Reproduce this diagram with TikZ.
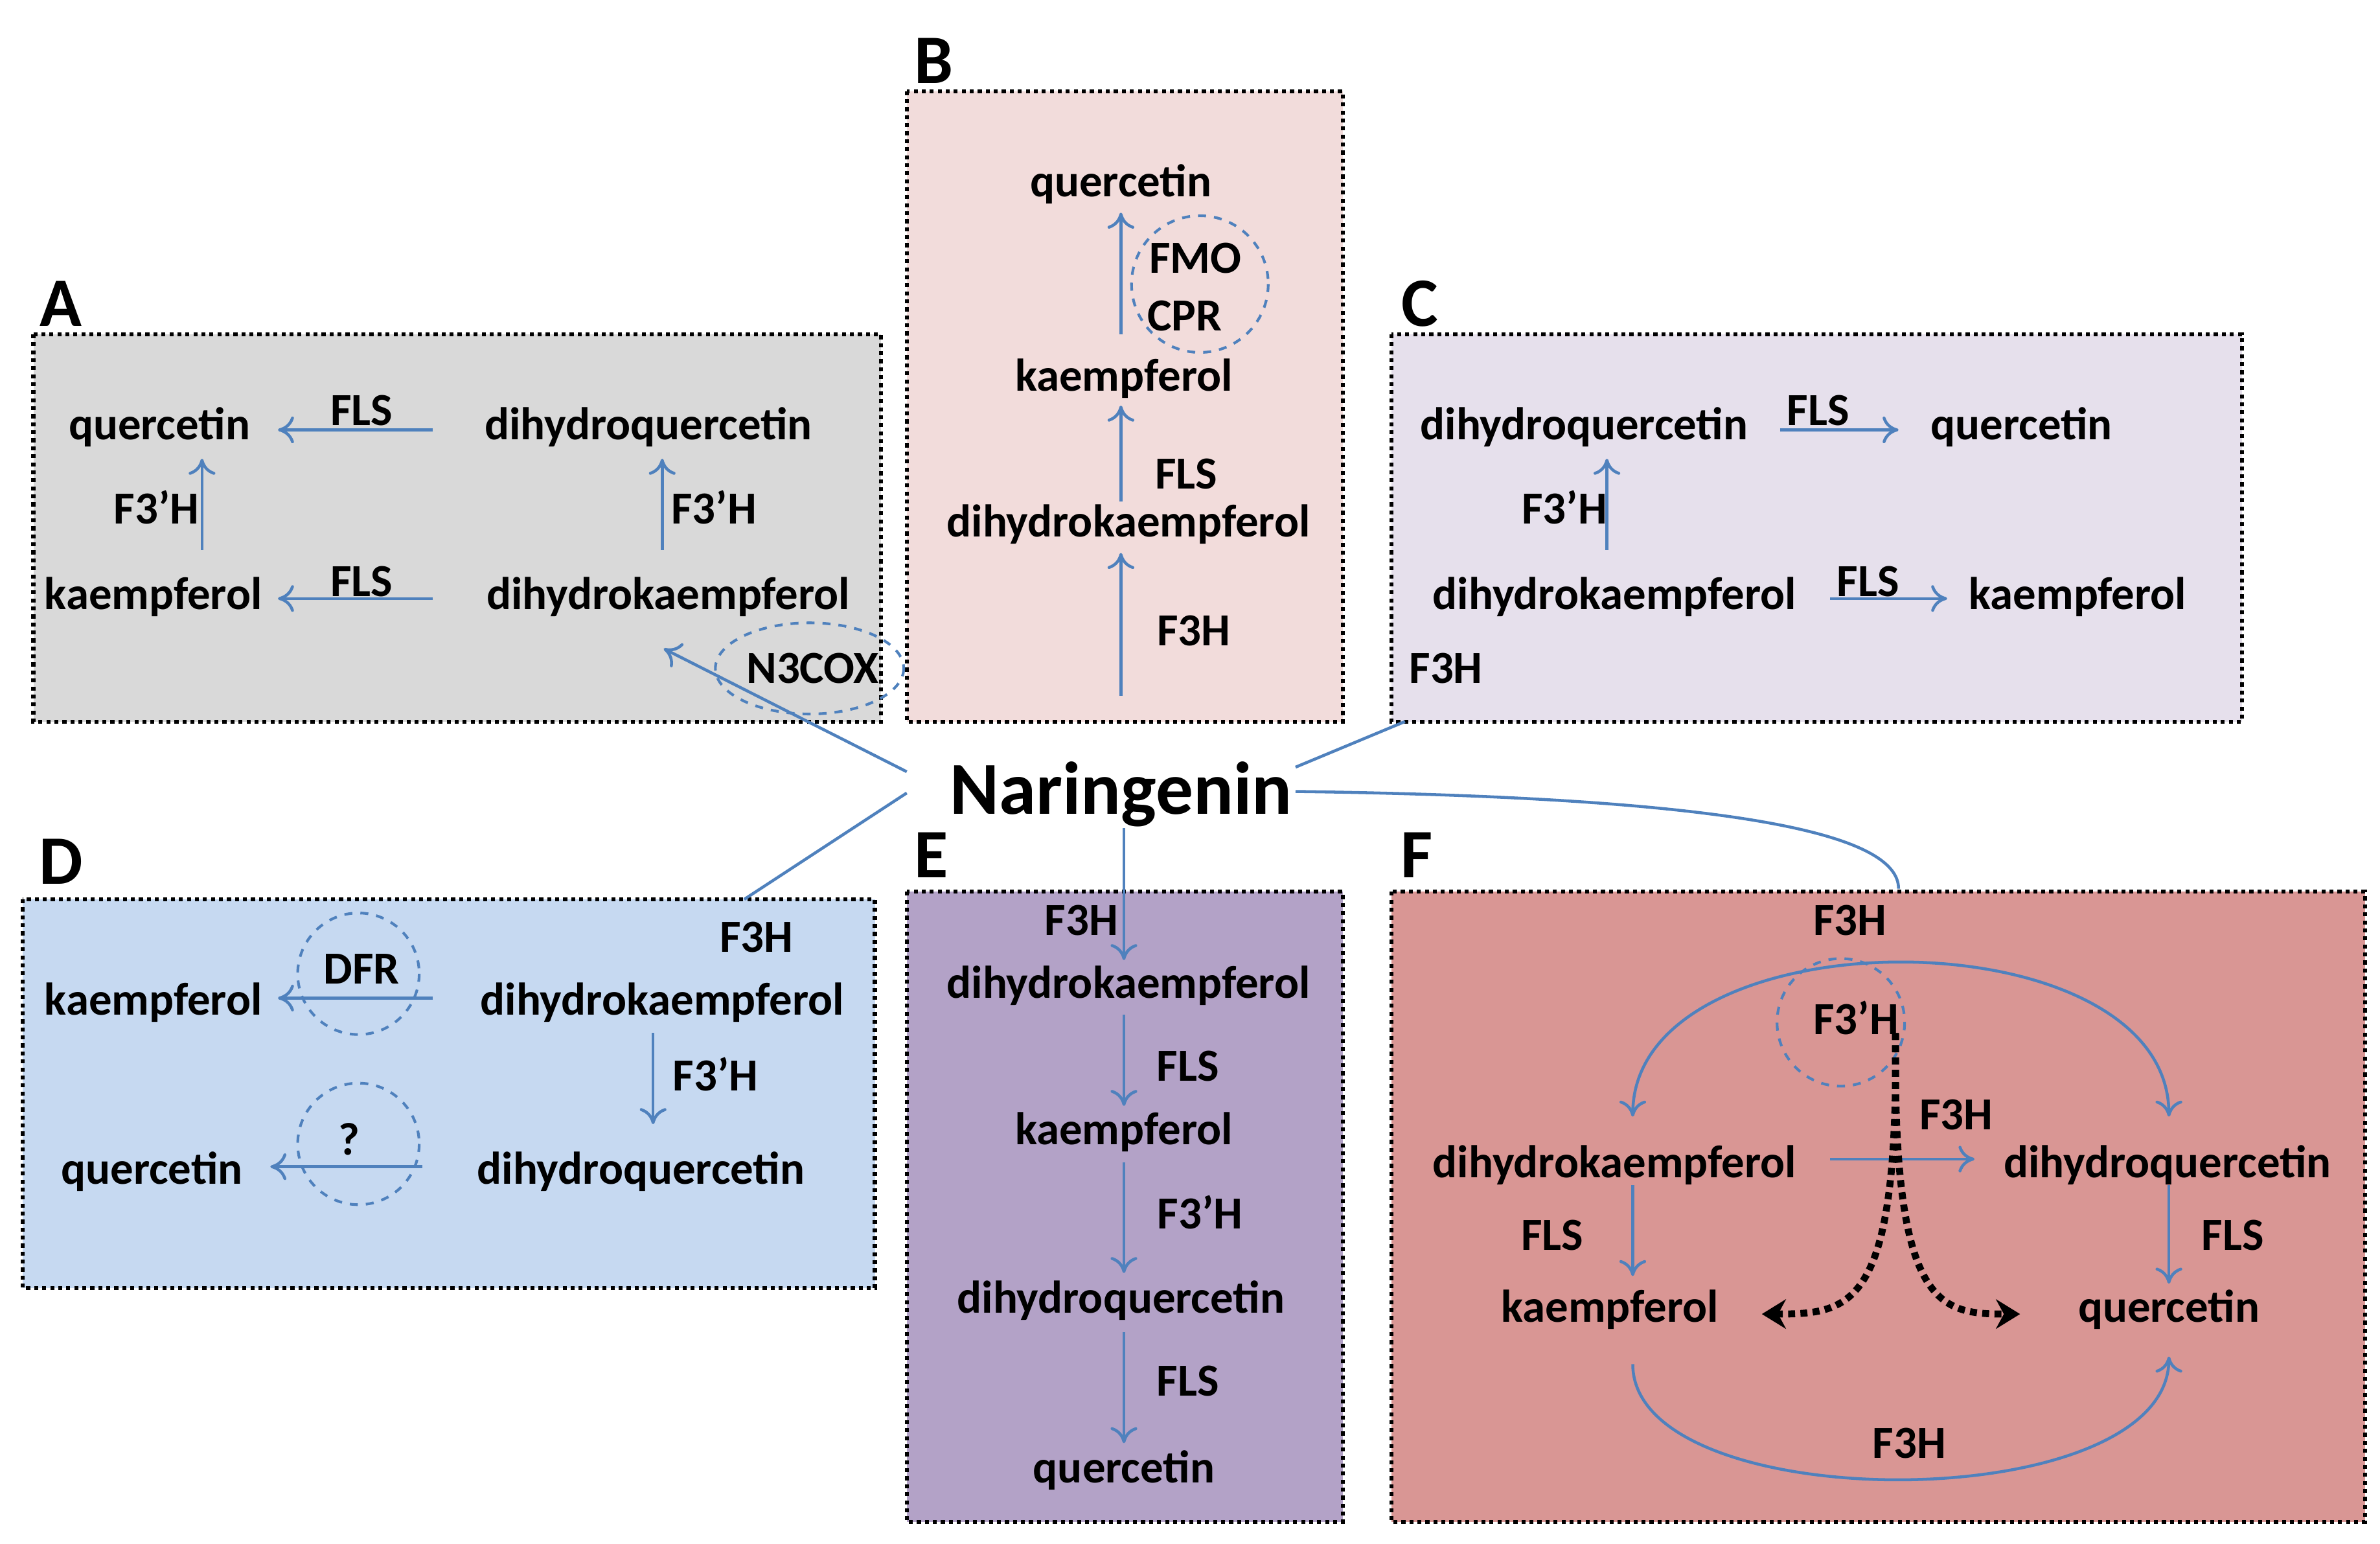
\documentclass[tikz,border=0pt]{standalone}
\usepackage{fontspec}
\setmainfont{Carlito}
\usetikzlibrary{arrows.meta}
\definecolor{ar}{HTML}{4F81BD}
\begin{document}
\begin{tikzpicture}[x=0.02cm,y=-0.02cm,
 t/.style={font=\fontsize{17.2}{19}\selectfont\bfseries,inner sep=1pt},
 lab/.style={font=\fontsize{26}{28}\selectfont\bfseries,inner sep=0pt},
 box/.style={draw=black,line width=1.5pt,dash pattern=on 1.5pt off 1.5pt},
 a/.style={draw=ar,line width=1.1pt,-{To[length=6pt,width=10pt]}},
 l/.style={draw=ar,line width=1.1pt},
 dc/.style={draw=ar,line width=1pt,dashed}]
\useasboundingbox (0,0) rectangle (1567,1016);
% boxes
\path[box,fill={rgb,255:red,217;green,217;blue,217}] (22,220) rectangle (580,475);
\path[box,fill={rgb,255:red,242;green,220;blue,219}] (597,60) rectangle (884,475);
\path[box,fill={rgb,255:red,230;green,224;blue,236}] (916,220) rectangle (1476,475);
\path[box,fill={rgb,255:red,198;green,217;blue,241}] (15,592) rectangle (576,848);
\path[box,fill={rgb,255:red,179;green,162;blue,199}] (597,587) rectangle (884,1002);
\path[box,fill={rgb,255:red,217;green,150;blue,148}] (916,587) rectangle (1557,1002);
\node[lab] (LA) at (40,200) {A};
\node[lab] (LB) at (615,40) {B};
\node[lab] (LC) at (935,200) {C};
\node[lab] (LD) at (40,567) {D};
\node[lab] (LE) at (613,563) {E};
\node[lab] (LF) at (933,563) {F};
\node[font=\fontsize{28}{30}\selectfont\bfseries] (nar) at (738,523) {Naringenin};
% A
\node[t] (aq) at (105,281) {quercetin};
\node[t] (adq) at (427,281) {dihydroquercetin};
\node[t] (ak) at (101,393) {kaempferol};
\node[t] (adk) at (440,393) {dihydrokaempferol};
\draw[a] (285,283) -- (183,283);
\node[t] (af1) at (238,270) {FLS};
\draw[a] (133,362) -- (133,302);
\node[t] (af2) at (103,334) {F3’H};
\draw[a] (436,362) -- (436,302);
\node[t] (af3) at (470,334) {F3’H};
\draw[a] (285,394) -- (183,394);
\node[t] (af4) at (238,383) {FLS};
\draw[dc] (533,440) ellipse (62 and 30);
\node[t] (n3) at (535,440) {N3COX};
\draw[a] (597,508) -- (437,427);
% B
\node[t] (bq) at (738,121) {quercetin};
\node[t] (bfmo) at (787,170) {FMO};
\node[t] (bcpr) at (780,208) {CPR};
\draw[dc] (790,187) circle (45);
\draw[a] (738,220) -- (738,140);
\node[t] (bk) at (740,249) {kaempferol};
\draw[a] (738,330) -- (738,267);
\node[t] (bf) at (781,312) {FLS};
\node[t] (bdk) at (743,345) {dihydrokaempferol};
\draw[a] (738,458) -- (738,364);
\node[t] (bf3) at (786,415) {F3H};
% C
\node[t] (cdq) at (1043,281) {dihydroquercetin};
\draw[a] (1172,283) -- (1250,283);
\node[t] (cf1) at (1197,270) {FLS};
\node[t] (cq) at (1331,281) {quercetin};
\draw[a] (1058,362) -- (1058,302);
\node[t] (cf2) at (1030,334) {F3’H};
\node[t] (cdk) at (1063,393) {dihydrokaempferol};
\draw[a] (1205,394) -- (1282,394);
\node[t] (cf3) at (1230,383) {FLS};
\node[t] (ck) at (1368,393) {kaempferol};
\node[t] (cf4) at (952,440) {F3H};
\draw[l] (853,505) -- (925,475);
% D
\draw[l] (597,522) -- (490,592);
\node[t] (df3) at (498,617) {F3H};
\node[t] (dk) at (101,660) {kaempferol};
\draw[dc] (236,641) circle (40);
\node[t] (ddfr) at (238,638) {DFR};
\draw[a] (285,657) -- (183,657);
\node[t] (ddk) at (436,660) {dihydrokaempferol};
\draw[a] (430,680) -- (430,740);
\node[t] (df) at (471,707) {F3’H};
\node[t] (dq) at (100,771) {quercetin};
\draw[dc] (236,753) circle (40);
\node[t] (dqq) at (230,750) {?};
\draw[a] (278,768) -- (178,768);
\node[t] (ddq) at (422,771) {dihydroquercetin};
% E
\draw[a] (740,545) -- (740,632);
\node[t] (ef3) at (712,606) {F3H};
\node[t] (edk) at (743,649) {dihydrokaempferol};
\draw[a] (740,668) -- (740,728);
\node[t] (ef1) at (782,702) {FLS};
\node[t] (ek) at (740,745) {kaempferol};
\draw[a] (740,765) -- (740,838);
\node[t] (ef2) at (790,798) {F3’H};
\node[t] (edq) at (738,856) {dihydroquercetin};
\draw[a] (740,877) -- (740,950);
\node[t] (ef4) at (782,909) {FLS};
\node[t] (eq) at (740,968) {quercetin};
% F
\draw[l] (853,521) .. controls (1150,525) and (1250,550) .. (1250,585);
\node[t] (ff3) at (1218,606) {F3H};
\draw[dc] (1212,673) circle (42);
\node[t] (ff3p) at (1222,670) {F3’H};
\draw[a,{To[length=6pt,width=10pt]}-{To[length=6pt,width=10pt]}] (1075,735) .. controls (1075,600) and (1428,600) .. (1428,735);
\node[t] (fdk) at (1063,767) {dihydrokaempferol};
\draw[a] (1205,763) -- (1300,763);
\node[t] (ff3b) at (1288,734) {F3H};
\node[t] (fdq) at (1427,767) {dihydroquercetin};
\draw[a] (1075,780) -- (1075,840);
\node[t] (ffa) at (1022,813) {FLS};
\draw[a] (1428,780) -- (1428,845);
\node[t] (ffb) at (1470,813) {FLS};
\node[t] (fk) at (1060,862) {kaempferol};
\node[t] (fq) at (1428,862) {quercetin};
\coordinate (fs) at (1248,680);
\draw[black,line width=2.6pt,dotted,-{Stealth[length=9pt,width=11pt]}] (fs) .. controls (1250,860) and (1220,865) .. (1160,865);
\draw[black,line width=2.6pt,dotted,-{Stealth[length=9pt,width=11pt]}] (fs) .. controls (1246,860) and (1276,865) .. (1330,865);
\draw[a] (1075,898) .. controls (1075,1000) and (1428,1000) .. (1428,893);
\node[t] (ff3c) at (1257,950) {F3H};
\end{tikzpicture}
\end{document}
